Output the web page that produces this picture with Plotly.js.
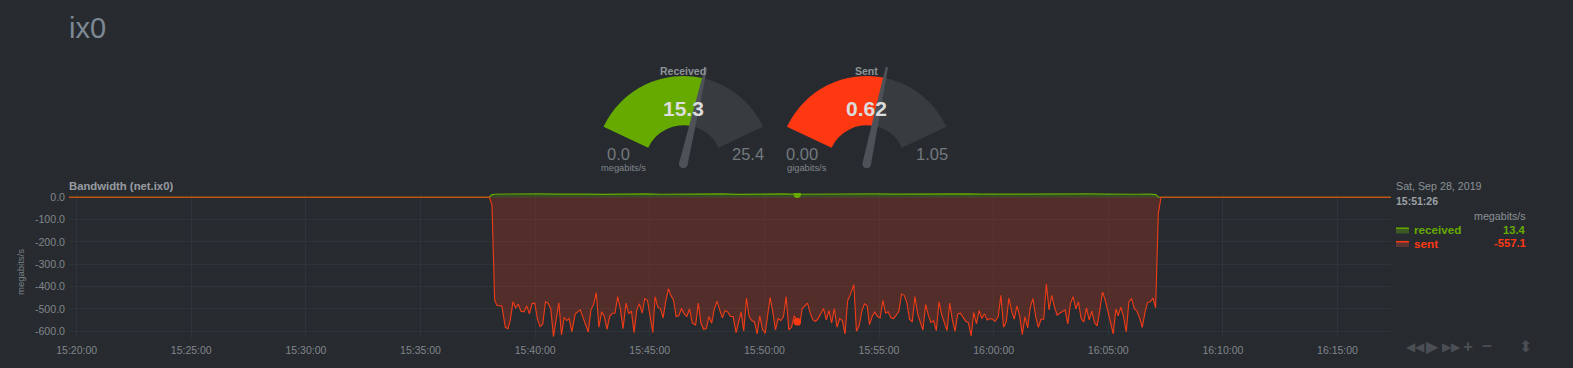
<!DOCTYPE html>
<html><head><meta charset="utf-8">
<script src="https://cdn.plot.ly/plotly-3.0.1.min.js"></script>
<style>html,body{margin:0;padding:0;background:#272b30;overflow:hidden}#chart{width:1573px;height:368px}</style>
</head><body><div id="chart"></div>
<script>
// ---------------- data ----------------
const pageTitle = 'ix0';
const chartTitle = 'Bandwidth (net.ix0)';
const unitsLabel = 'megabits/s';
// seconds after 2019-09-28 15:38:00
const sentT = [-1100,0,7,
14,20,33,42,49,55,62,69,76,83,91,98,105,112,119,126,133,140,147,154,161,168,182,189,196,203,209,216,225,238,247,259,266,273,280,287,294,301,308,315,322,329,336,343,350,358,365,372,379,386,393,400,407,414,421,428,434,
441,448,455,461,469,475,482,489,496,503,510,517,524,531,540,547,554,561,568,575,582,589,596,603,610,617,624,631,638,646,652,659,666,673,680,687,694,701,708,715,722,729,735,742,749,756,763,770,777,784,791,798,806,812,819,826,833,840,847,854,861,868,875,
882,889,896,903,910,917,924,931,938,945,954,961,968,975,982,989,995,1002,1009,1016,1023,1030,1037,1044,1051,1058,1065,1072,1079,1086,1093,1100,1107,1114,1121,1128,1135,1142,1149,1156,1163,1170,1177,1184,1191,1198,1205,1212,1219,1226,1233,1240,1247,1254,1261,1268,1275,1282,1289,1296,1303,1310,1317,1324,
1332,1339,1346,1353,1360,1367,1374,1381,1388,1395,1402,1409,1416,1423,1430,1437,1444,1451,1458,1465,1472,1479,1486,1493,1500,1507,1514,1521,1528,1535,1542,1549,1556,1563,1570,1577,1584,1591,1598,1605,1612,1619,1626,1633,1640,1646,1653,1660,1667,1674,1681,1688,1695,1702,1709,1716,1723,1730,1737,1744,
1751,1758,2360];
const sentV = [0,0,-34,
-460,-485,-487,-582,-588,-549,-468,-495,-479,-510,-513,-487,-522,-476,-474,-546,-579,-567,-468,-474,-500,-624,-471,-616,-537,-552,-543,-603,-522,-504,-549,-603,-504,-480,-427,-582,-513,-534,-591,-534,-519,-519,-445,-500,-588,-474,-522,-510,-606,-504,-477,-519,-454,-462,-534,-606,-445,
-492,-498,-540,-474,-409,-439,-460,-534,-531,-498,-522,-534,-500,-561,-573,-474,-564,-591,-588,-534,-564,-500,-465,-504,-540,-507,-513,-534,-534,-606,-564,-513,-600,-451,-534,-552,-558,-612,-531,-591,-609,-516,-448,-513,-594,-543,-552,-534,-445,-594,-582,-531,-557.1,-573,-498,-486,-474,-519,-549,-555,-543,-519,-498,
-549,-507,-564,-498,-582,-543,-552,-612,-462,-436,-391,-600,-576,-510,-477,-486,-570,-534,-513,-534,-540,-462,-519,-513,-540,-543,-528,-510,-433,-439,-474,-546,-558,-445,-522,-558,-594,-480,-528,-561,-552,-597,-468,-525,-561,-597,-474,-549,-600,-522,-519,-537,-555,-561,-621,-516,-567,-507,-543,-522,-549,-543,-546,-555,
-534,-439,-582,-558,-451,-510,-546,-486,-531,-615,-534,-585,-492,-454,-534,-582,-546,-546,-388,-504,-439,-489,-528,-519,-513,-504,-567,-477,-445,-500,-468,-543,-558,-495,-549,-510,-561,-576,-504,-424,-460,-507,-564,-612,-500,-531,-492,-534,-603,-468,-454,-498,-510,-540,-582,-516,-471,-468,-451,-495,
-72,0,0];
const recvT = [-1100,0,7,14,50,90,130,170,210,250,290,330,370,410,450,490,530,570,610,650,690,730,770,806,850,890,930,970,1010,1050,1090,1130,1170,1210,1250,1290,1330,1370,1410,1450,1490,1530,1570,1610,1650,1690,1730,1744,1752,2360];
const recvV = [0,0,12,13.5,14.5,13.0,14.8,13.6,15.2,14.0,13.2,14.6,13.8,15.0,13.5,14.2,12.8,13.9,14.7,13.1,14.3,13.6,14.9,13.4,14.1,12.9,14.5,13.3,14.8,13.7,14.4,12.9,14.0,13.5,15.1,13.8,14.2,13.0,14.6,13.4,14.3,13.1,14.7,13.6,14.9,13.3,13.8,12.0,0,0];
const hoverT = 806;                 // 15:51:26
const hoverRecv = 13.4, hoverSent = -557.1;
const hoverDate = 'Sat, Sep 28, 2019', hoverClock = '15:51:26';
const seriesNames = ['received', 'sent'];
const yTickVals = [0,-100,-200,-300,-400,-500,-600];
const yTickText = ['0.0','-100.0','-200.0','-300.0','-400.0','-500.0','-600.0'];
const gaugeNames = ['Received', 'Sent'];
const gaugeValues = [15.3, 0.62];
const gaugeValueText = ['15.3', '0.62'];
const gaugeMinText = ['0.0', '0.00'];
const gaugeMax = [25.4, 1.05];
const gaugeMaxText = ['25.4', '1.05'];
const gaugeUnits = ['megabits/s', 'gigabits/s'];

// ---------------- styling / layout ----------------
const W = 1573, H = 368;
const fx = x => x / W, fy = y => 1 - y / H;
const FONT = '"Liberation Sans", Arial, Helvetica, sans-serif';
const BG = '#272b30';
const GREEN = '#66AA00', RED = '#FE3912';
const t0 = Date.UTC(2019, 8, 28, 15, 38, 0);
const toDate = s => t0 + s * 1000;

const traces = [];
traces.push({type:'scatter', mode:'lines', x: recvT.map(toDate), y: recvV,
  line:{color:GREEN, width:1.2}, fill:'tozeroy', fillcolor:'rgba(102,170,0,0.25)', hoverinfo:'skip', showlegend:false});
traces.push({type:'scatter', mode:'lines', x: sentT.map(toDate), y: sentV,
  line:{color:'#f03c16', width:1.1}, fill:'tozeroy', fillcolor:'rgba(254,57,18,0.2)', hoverinfo:'skip', showlegend:false});
traces.push({type:'scatter', mode:'markers', x:[toDate(hoverT), toDate(hoverT)], y:[hoverRecv, hoverSent],
  marker:{color:[GREEN, RED], size:7.5}, hoverinfo:'skip', showlegend:false});

// gauges (geometry in pixels)
const gaugeCX = [683.3, 866.7], gaugeCY = 164, gaugeR = 88;
const spanDeg = 130, startDeg = 155;   // arc from 155deg to 25deg (math angles)
const shapes = [];
const annotations = [];
function ann(text, x, y, size, color, opts) {
  annotations.push(Object.assign({text, x: fx(x), y: fy(y), xref:'paper', yref:'paper', showarrow:false,
    xanchor:'center', yanchor:'middle', font:{family:FONT, size, color}, borderpad:0}, opts || {}));
}
for (let i = 0; i < 2; i++) {
  const cx = gaugeCX[i];
  const gapVal = gaugeMax[i] * (360 - spanDeg) / spanDeg;
  traces.push({type:'pie', values:[gaugeValues[i], gaugeMax[i] - gaugeValues[i], gapVal],
    marker:{colors:[i === 0 ? GREEN : RED, '#383b40', 'rgba(0,0,0,0)'], line:{width:0}},
    hole:0.44, sort:false, direction:'clockwise', rotation:-(startDeg - 90), textinfo:'none',
    hoverinfo:'skip', showlegend:false,
    domain:{x:[fx(cx - gaugeR), fx(cx + gaugeR)], y:[fy(gaugeCY + gaugeR), fy(gaugeCY - gaugeR)]}});
  // needle
  const frac = gaugeValues[i] / gaugeMax[i];
  const a = (startDeg - frac * spanDeg) * Math.PI / 180;
  const dx = Math.cos(a), dy = -Math.sin(a);   // screen direction
  const nx = -dy, ny = dx;                      // normal
  const L = 99, bw = 4.3, tw = 1.2;
  const pts = [
    [cx + nx * bw, gaugeCY + ny * bw],
    [cx + dx * L + nx * tw, gaugeCY + dy * L + ny * tw],
    [cx + dx * L - nx * tw, gaugeCY + dy * L - ny * tw],
    [cx - nx * bw, gaugeCY - ny * bw]];
  const path = 'M ' + pts.map(p => fx(p[0]).toFixed(6) + ',' + fy(p[1]).toFixed(6)).join(' L ') + ' Z';
  shapes.push({type:'path', xref:'paper', yref:'paper', path, fillcolor:'#4e5258', line:{width:0}, layer:'above'});
  shapes.push({type:'circle', xref:'paper', yref:'paper', x0:fx(cx - bw), x1:fx(cx + bw), y0:fy(gaugeCY + bw), y1:fy(gaugeCY - bw),
    fillcolor:'#4e5258', line:{width:0}, layer:'above'});
  ann('<b>' + gaugeNames[i] + '</b>', cx, 70.5, 10.5, '#8e9398');
  ann('<b>' + gaugeValueText[i] + '</b>', cx, 108.5, 21, '#dcdcdc');
  ann(gaugeMinText[i], cx - 65, 154, 16.5, '#73787d');
  ann(gaugeMaxText[i], cx + 65, 154, 16.5, '#73787d');
  ann(gaugeUnits[i], cx - 60, 168, 9.3, '#80858a');
}

// page & chart titles
ann(pageTitle, 68, 28, 29, '#7d8894', {xanchor:'left'});
ann('<b>' + chartTitle + '</b>', 68, 186.5, 11.3, '#989ca1', {xanchor:'left'});
ann(unitsLabel, 20, 272, 9.5, '#7b8085', {textangle:-90});

// legend panel
ann(hoverDate, 1395, 186.5, 10.7, '#8c9196', {xanchor:'left'});
ann('<b>' + hoverClock + '</b>', 1395, 200.5, 10.5, '#9da1a6', {xanchor:'left'});
ann(unitsLabel, 1526.5, 215.5, 10.7, '#8c9196', {xanchor:'right'});
const legY = [229.5, 243];
const legCol = [GREEN, RED];
const legFill = ['#3d5a24', '#5a3533'];
const legVal = [hoverRecv.toFixed(1), hoverSent.toFixed(1)];
for (let i = 0; i < 2; i++) {
  shapes.push({type:'rect', xref:'paper', yref:'paper', x0:fx(1396), x1:fx(1409), y0:fy(legY[i] + 4), y1:fy(legY[i] - 1),
    fillcolor:legFill[i], line:{width:0}});
  shapes.push({type:'line', xref:'paper', yref:'paper', x0:fx(1396), x1:fx(1409), y0:fy(legY[i] - 1.3), y1:fy(legY[i] - 1.3),
    line:{color:legCol[i], width:1.5}});
  ann('<b>' + seriesNames[i] + '</b>', 1412.5, legY[i], 11.7, legCol[i], {xanchor:'left'});
  ann('<b>' + legVal[i] + '</b>', 1526.5, legY[i], 11.2, legCol[i], {xanchor:'right'});
}
// toolbox
const tools = [['◀◀',1415,12],['▶',1432,16],['▶▶',1451,12],['<b>+</b>',1468,17],['<b>−</b>',1487,17],['⬍',1525,16]];
tools.forEach(t => ann(t[0], t[1], 346.5, t[2], '#4b4f54'));

const layout = {
  width: W, height: H,
  margin:{l:0, r:0, t:0, b:0, pad:0},
  paper_bgcolor: BG, plot_bgcolor: BG,
  font:{family:FONT, color:'#80858a'},
  showlegend:false,
  xaxis:{type:'date', domain:[fx(69), fx(1391)], range:['2019-09-28 15:19:40','2019-09-28 16:17:20'],
    tick0:'2019-09-28 15:20:00', dtick:300000, tickformat:'%H:%M:%S',
    showgrid:true, gridcolor:'#2c3539', gridwidth:1, zeroline:false, showline:false, ticks:'',
    tickfont:{family:FONT, size:10.5, color:'#80858a'}, fixedrange:true, automargin:false, ticklabelstandoff:4},
  yaxis:{domain:[fy(338), fy(193)], range:[-630, 19], tickvals:yTickVals, ticktext:yTickText,
    showgrid:true, gridcolor:'#2c3539', gridwidth:1, zeroline:false, showline:false, ticks:'',
    tickfont:{family:FONT, size:10.6, color:'#80858a'}, fixedrange:true, automargin:false, ticklabelstandoff:3},
  shapes, annotations
};
Plotly.newPlot('chart', traces, layout, {displayModeBar:false, staticPlot:true});
</script></body></html>
